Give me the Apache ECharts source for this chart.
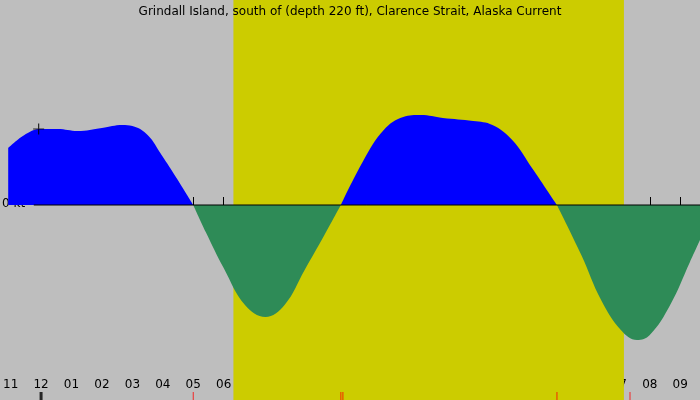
<!DOCTYPE html><html><head><meta charset="utf-8">
<script src="https://cdn.jsdelivr.net/npm/echarts@6/dist/echarts.min.js"></script>
<style>html,body{margin:0;padding:0;background:#bebebe}#c{width:700px;height:400px}</style></head>
<body><div id="c"></div><script>
const title = 'Grindall Island, south of (depth 220 ft), Clarence Strait, Alaska Current';
// current speed (kt, approx) vs hours since midnight Sep 13
const flood1 = [[-1.08,1.14],[-0.5,1.42],[0,1.52],[0.55,1.52],[1.2,1.48],[2.0,1.54],[2.67,1.6],[3.0,1.58],[3.5,1.4],[3.96,1.0],[4.45,0.54],[5.0,0]];
const ebb1 = [[5.0,0],[5.41,-0.54],[6.0,-1.26],[6.7,-2.0],[7.37,-2.24],[8.0,-2.0],[8.66,-1.3],[9.31,-0.6],[9.85,0]];
const flood2 = [[9.85,0],[10.6,0.9],[11.26,1.5],[11.9,1.76],[12.48,1.8],[13.2,1.74],[14.2,1.68],[14.83,1.6],[15.48,1.3],[16.13,0.74],[16.95,0]];
const ebb2 = [[16.95,0],[17.75,-1.0],[18.4,-1.9],[19.05,-2.5],[19.58,-2.7],[20.0,-2.6],[20.67,-2.0],[21.32,-1.14],[21.65,-0.7]];
const hourTicks = [-1,0,1,2,3,4,5,6,7,8,9,10,11,12,13,14,15,16,17,18,19,20,21];
const hourLabels = ['11','12','01','02','03','04','05','06','07','08','09','10','11','12','01','02','03','04','05','06','07','08','09'];
const topEvents = [[0.067,'Sep 13\n00:04'],[1.033,'Sep 13\n01:02'],[2.567,'Sep 13\n02:34'],[7.367,'Sep 13\n07:22'],[12.483,'Sep 13\n12:29'],[19.583,'Sep 13\n19:35']];
const bottomEvents = [[5.0,'Slack\n05:00'],[9.85,'Slack\n09:51'],[9.917,'Mrise\n09:55'],[16.95,'Slack\n16:57'],[19.35,'Mset\n19:21']];
const daylight = [6.32, 19.15];
const crossMark = [[-0.08,1.52]];
const XMIN=-1.08, XMAX=21.65, YMIN=-3.9, YMAX=4.1;
const FONT='DejaVu Sans';
const offs = {1:[-16,0],2:[16,0]};
const topOffs = {0:[-5,0],1:[2,0],2:[4,0]};
const chart = echarts.init(document.getElementById('c'));
chart.setOption({
  backgroundColor:'#bebebe', animation:false,
  grid:{left:0,right:0,top:0,bottom:0},
  title:{text:title,left:'center',top:1,textStyle:{fontFamily:FONT,fontSize:12,fontWeight:'normal',color:'#000'}},
  xAxis:{type:'value',min:XMIN,max:XMAX,splitLine:{show:false},axisLine:{show:false},
    axisTick:{show:true,inside:true,length:8,customValues:hourTicks,lineStyle:{color:'#000',width:1}},
    axisLabel:{inside:true,margin:9,customValues:hourTicks,formatter:v=>hourLabels[hourTicks.indexOf(Math.round(v))],fontFamily:FONT,fontSize:12,color:'#000',showMinLabel:true,showMaxLabel:true}},
  yAxis:{type:'value',min:YMIN,max:YMAX,show:false},
  graphic:[{type:'text',left:2,top:198,style:{text:'0 kt',fontFamily:FONT,fontSize:12,fill:'#000'}}],
  series:[
    {type:'line',data:[],markArea:{silent:true,itemStyle:{color:'#cccc00'},data:[[{xAxis:daylight[0]},{xAxis:daylight[1]}]]}},
    ...[flood1,flood2].map(d=>({type:'line',data:d,smooth:0.4,symbol:'none',lineStyle:{width:0},areaStyle:{color:'#0000ff',opacity:1}})),
    ...[ebb1,ebb2].map(d=>({type:'line',data:d,smooth:0.4,symbol:'none',lineStyle:{width:0},areaStyle:{color:'#2e8b57',opacity:1}})),
    {type:'line',data:[[-0.24,0],[XMAX,0]],symbol:'none',lineStyle:{color:'#000',width:1},z:5},
    {type:'scatter',data:crossMark,symbol:'path://M4,0H5V4H9V5H5V9H4V5H0V4H4Z',symbolSize:11,itemStyle:{color:'#000'},z:6},
    {type:'scatter',symbol:'none',data:topEvents.map((e,i)=>({value:[e[0],3.58],label:{show:true,formatter:e[1],offset:topOffs[i]||[0,0]}})),
      label:{position:'inside',fontFamily:FONT,fontSize:12,color:'#000',lineHeight:13}},
    {type:'scatter',symbol:'none',data:bottomEvents.map((e,i)=>({value:[e[0],-3.26],label:{show:true,formatter:e[1],offset:offs[i]||[0,0]}})),
      label:{position:'inside',fontFamily:FONT,fontSize:12,color:'#000',lineHeight:13}},
    {type:'scatter',symbol:'rect',symbolSize:[1,8],itemStyle:{color:'#ff0000'},data:bottomEvents.map(e=>[e[0],-3.82]),z:6},
    {type:'scatter',symbol:'rect',symbolSize:[3,8],itemStyle:{color:'#000'},data:[[0,-3.82]],z:6}
  ]
});
</script></body></html>
